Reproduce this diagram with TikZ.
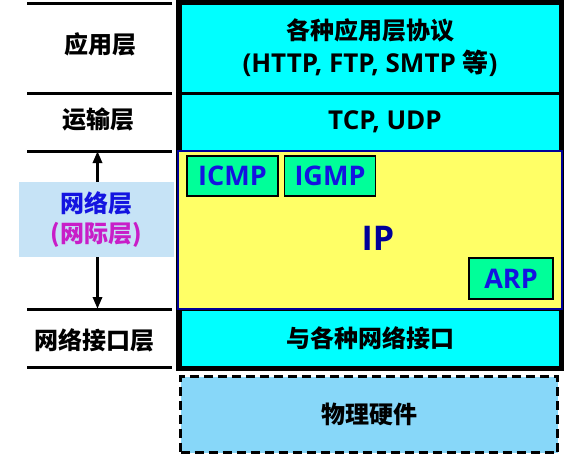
\documentclass[tikz,border=0pt]{standalone}
\usepackage{fontspec}
\setmainfont{Open Sans}
\newfontfamily\zh{Noto Sans CJK SC}
\usetikzlibrary{arrows.meta,positioning}

\definecolor{laycyan}{HTML}{00FFFF}
\definecolor{ipyellow}{HTML}{FFFF66}
\definecolor{ipnavy}{HTML}{000099}
\definecolor{protogreen}{HTML}{00FF99}
\definecolor{protoblue}{HTML}{1414E0}
\definecolor{netfill}{HTML}{C6E3F6}
\definecolor{netmagenta}{HTML}{C81EC8}
\definecolor{physfill}{HTML}{87D7F9}

\newcommand{\latsize}{\fontsize{26}{30}\selectfont}

\begin{document}
\begin{tikzpicture}[
  x=1pt, y=-1pt,
  big/.style={font=\bfseries\fontsize{24}{30}\selectfont},
  layer/.style={big, fill=laycyan, draw=black, line width=3pt, minimum width=380pt, inner sep=0pt, align=center},
  proto/.style={font=\bfseries\fontsize{27}{30}\selectfont, fill=protogreen, draw=black, line width=1.5pt, text=protoblue, inner sep=0pt, minimum height=40pt},
  rule/.style={line width=3pt},
  arr/.style={line width=3.5pt, -{Triangle[length=12pt,width=9pt]}}
]
\useasboundingbox (0,0) rectangle (564,455);

% protocol stack
\node[layer, minimum height=90pt] (app) at (370,48) {{\zh 各种应用层协议}\\[3pt]{\latsize(HTTP, FTP, SMTP {\zh 等})}};
\node[layer, minimum height=58pt] (tcp) at (370,122) {\hspace{30pt}\latsize TCP, UDP};
\node[layer, minimum height=58pt] (link) at (370,338) {\zh 与各种网络接口};
\draw[line width=5pt] (app.north west) rectangle (link.south east);
\node[fill=ipyellow, draw=ipnavy, line width=2.5pt, minimum width=384pt, minimum height=158pt] (ip) at (370,230) {};
\node[font=\bfseries\fontsize{34}{40}\selectfont, text=ipnavy] (iptext) at (378,238) {IP};
\node[proto, minimum width=91pt] (icmp) at (232.5,176) {ICMP};
\node[proto, minimum width=91pt, right=5pt of icmp] (igmp) {IGMP};
\node[proto, minimum width=84pt, minimum height=41pt] (arp) at (511,278.5) {ARP};
\node[big, fill=physfill, draw=black, line width=3.5pt, dash pattern=on 9pt off 5pt, minimum width=377pt, minimum height=76pt] (phys) at (369,414.5) {\zh 物理硬件};

% layer names
\foreach \y in {3,93,151,309,367}
  \draw[rule] (27,\y) -- (172,\y);
\node[big] (lapp) at (100,44) {\zh 应用层};
\node[big] (ltcp) at (98.5,119) {\zh 运输层};
\node[big] (llink) at (94,340) {\zh 网络接口层};
\node[big, fill=netfill, minimum width=155pt, minimum height=75pt, align=center, inner sep=0pt] (lnet) at (96.5,219.5)
  {\zh\color{protoblue}网络层\\\zh\color{netmagenta}(网际层)};
\coordinate (nettop) at (97.5,151);
\coordinate (netbot) at (97.5,309);
\draw[arr] (lnet.north -| nettop) -- (nettop);
\draw[arr] (lnet.south -| netbot) -- (netbot);
\end{tikzpicture}
\end{document}
